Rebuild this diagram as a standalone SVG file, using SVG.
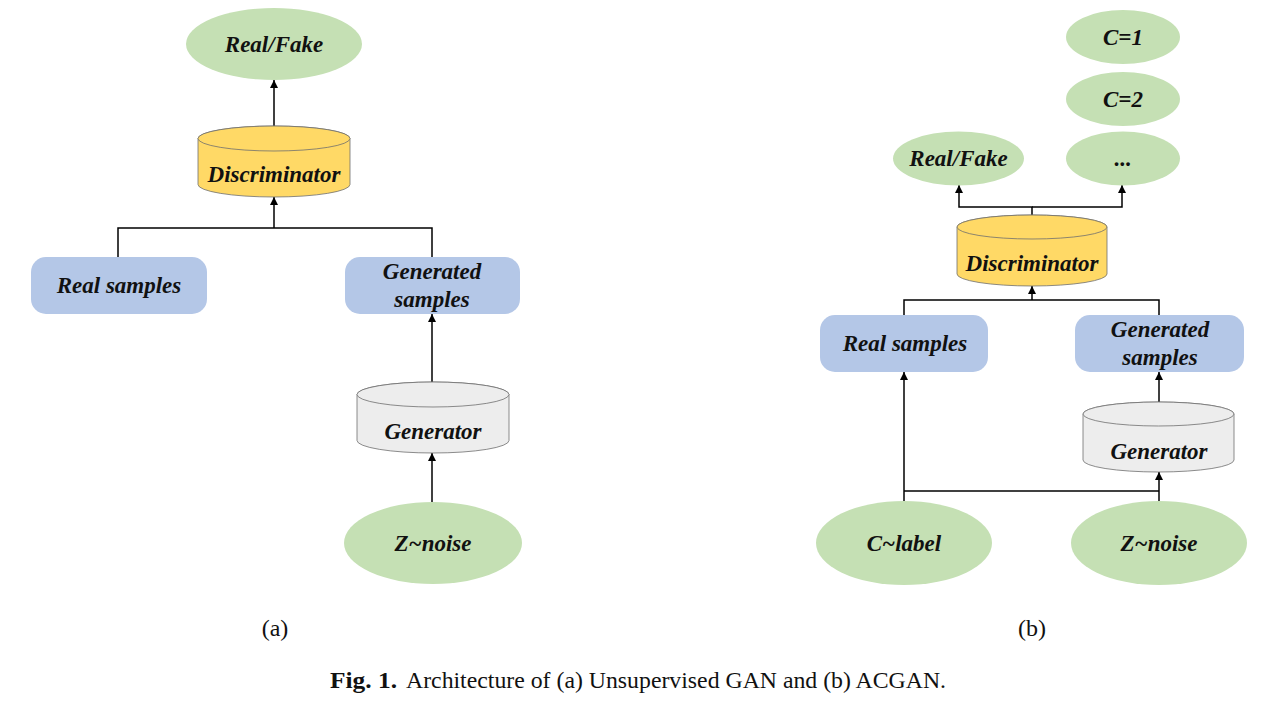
<svg xmlns="http://www.w3.org/2000/svg" width="1272" height="712" viewBox="0 0 1272 712">
<style>
.bg{fill:#ffffff}
.ell{fill:#c5e0b4;stroke:none}
.box{fill:#b4c7e7;stroke:none}
.disc{fill:#ffd966;stroke:#6f6f6f;stroke-width:0.8}
.gen{fill:#ededed;stroke:#6f6f6f;stroke-width:0.8}
.lbl{font-family:"Liberation Serif","Times New Roman",serif;font-weight:bold;font-style:italic;font-size:23px;fill:#111;text-anchor:middle}
.cap{font-family:"Liberation Serif","Times New Roman",serif;font-size:24px;fill:#111}
.con{fill:none;stroke:#000;stroke-width:1.5}
</style>
<defs>
<marker id="arr" markerUnits="userSpaceOnUse" markerWidth="8" markerHeight="10" viewBox="0 0 10 10" refX="10" refY="5" orient="auto">
<path d="M0,0 L10,5 L0,10 z" fill="#000"/>
</marker>
</defs>
<rect class="bg" x="0" y="0" width="1272" height="712"/>

<g id="connectors">
<path class="con" d="M274,126 V80" marker-end="url(#arr)"/>
<path class="con" d="M274,228 V197" marker-end="url(#arr)"/>
<path class="con" d="M118,257 V228 H432 V257"/>
<path class="con" d="M432,382 V314" marker-end="url(#arr)"/>
<path class="con" d="M432,502 V453" marker-end="url(#arr)"/>

<path class="con" d="M1032,215 V207 H959 V185" marker-end="url(#arr)"/>
<path class="con" d="M1032,207 H1122 V185" marker-end="url(#arr)"/>
<path class="con" d="M904,315 V300 H1159 V315"/>
<path class="con" d="M1032,300 V286" marker-end="url(#arr)"/>
<path class="con" d="M904,501 V372" marker-end="url(#arr)"/>
<path class="con" d="M1159,402 V372" marker-end="url(#arr)"/>
<path class="con" d="M1159,501 V472" marker-end="url(#arr)"/>
<path class="con" d="M904,491 H1159"/>
</g>

<!-- (a) -->
<g id="a-realfake">
<ellipse class="ell" cx="274" cy="44" rx="88" ry="36"/>
<text class="lbl" x="274" y="52">Real/Fake</text>
</g>
<g id="a-discriminator">
<path class="disc" d="M198,138.5 V184.5 A76,12.5 0 0 0 350,184.5 V138.5 A76,12.5 0 0 0 198,138.5 Z"/>
<ellipse class="disc" cx="274" cy="138.5" rx="76" ry="12.5"/>
<text class="lbl" x="274" y="182">Discriminator</text>
</g>
<g id="a-real">
<rect class="box" x="31" y="257" width="176" height="57" rx="15"/>
<text class="lbl" x="119" y="293">Real samples</text>
</g>
<g id="a-generated">
<rect class="box" x="345" y="257" width="175" height="57" rx="15"/>
<text class="lbl" x="432" y="279">Generated</text>
<text class="lbl" x="432" y="307">samples</text>
</g>
<g id="a-generator">
<path class="gen" d="M357,394.5 V440.5 A76,12.5 0 0 0 509,440.5 V394.5 A76,12.5 0 0 0 357,394.5 Z"/>
<ellipse class="gen" cx="433" cy="394.5" rx="76" ry="12.5"/>
<text class="lbl" x="433" y="439">Generator</text>
</g>
<g id="a-znoise">
<ellipse class="ell" cx="433" cy="543" rx="89" ry="41"/>
<text class="lbl" x="433" y="551">Z~noise</text>
</g>

<!-- (b) -->
<g id="b-c1">
<ellipse class="ell" cx="1123" cy="37" rx="57" ry="27"/>
<text class="lbl" x="1123" y="45">C=1</text>
</g>
<g id="b-c2">
<ellipse class="ell" cx="1123" cy="99" rx="57" ry="27"/>
<text class="lbl" x="1123" y="107">C=2</text>
</g>
<g id="b-dots">
<ellipse class="ell" cx="1123" cy="158.5" rx="57" ry="27"/>
<text class="lbl" x="1123" y="166">...</text>
</g>
<g id="b-realfake">
<ellipse class="ell" cx="958.5" cy="158.5" rx="65.5" ry="27"/>
<text class="lbl" x="958.5" y="166">Real/Fake</text>
</g>
<g id="b-discriminator">
<path class="disc" d="M957,227 V274 A75,12 0 0 0 1107,274 V227 A75,12 0 0 0 957,227 Z"/>
<ellipse class="disc" cx="1032" cy="227" rx="75" ry="12"/>
<text class="lbl" x="1032" y="271">Discriminator</text>
</g>
<g id="b-real">
<rect class="box" x="820" y="315" width="168" height="57" rx="15"/>
<text class="lbl" x="905" y="351">Real samples</text>
</g>
<g id="b-generated">
<rect class="box" x="1075" y="315" width="169" height="57" rx="15"/>
<text class="lbl" x="1160" y="337">Generated</text>
<text class="lbl" x="1160" y="365">samples</text>
</g>
<g id="b-generator">
<path class="gen" d="M1083,414 V460 A75.5,12 0 0 0 1234,460 V414 A75.5,12 0 0 0 1083,414 Z"/>
<ellipse class="gen" cx="1158.5" cy="414" rx="75.5" ry="12"/>
<text class="lbl" x="1159" y="459">Generator</text>
</g>
<g id="b-clabel">
<ellipse class="ell" cx="904" cy="543" rx="88" ry="42"/>
<text class="lbl" x="904" y="551">C~label</text>
</g>
<g id="b-znoise">
<ellipse class="ell" cx="1159" cy="543" rx="88" ry="42"/>
<text class="lbl" x="1159" y="551">Z~noise</text>
</g>

<text class="cap" x="275" y="636" text-anchor="middle">(a)</text>
<text class="cap" x="1032" y="636" text-anchor="middle">(b)</text>
<text class="cap" x="330" y="688" font-weight="bold" textLength="67" lengthAdjust="spacingAndGlyphs">Fig. 1.</text>
<text class="cap" x="406" y="688" textLength="540" lengthAdjust="spacingAndGlyphs">Architecture of (a) Unsupervised GAN and (b) ACGAN.</text>
</svg>
